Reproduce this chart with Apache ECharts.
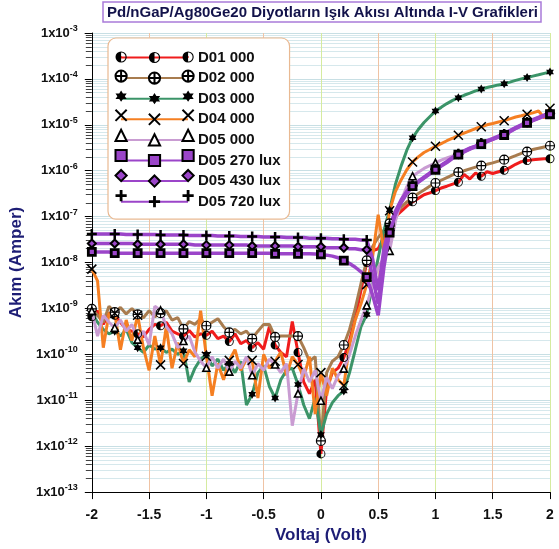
<!DOCTYPE html>
<html>
<head>
<meta charset="UTF-8">
<title>Pd/nGaP/Ag80Ge20 I-V</title>
<script src="https://cdn.jsdelivr.net/npm/echarts@6.0.0/dist/echarts.min.js"></script>
<style>
  html, body { margin: 0; padding: 0; background: #fff; }
  #main { width: 559px; height: 549px; }
</style>
</head>
<body>
<div id="main"></div>
<script>
// gerilim (V), 0.05 adim
var volts = [-2,-1.95,-1.9,-1.85,-1.8,-1.75,-1.7,-1.65,-1.6,-1.55,
  -1.5,-1.45,-1.4,-1.35,-1.3,-1.25,-1.2,-1.15,-1.1,-1.05,
  -1,-0.95,-0.9,-0.85,-0.8,-0.75,-0.7,-0.65,-0.6,-0.55,
  -0.5,-0.45,-0.4,-0.35,-0.3,-0.25,-0.2,-0.15,-0.1,-0.05,
  0,0.05,0.1,0.15,0.2,0.25,0.3,0.35,0.4,0.45,
  0.5,0.55,0.6,0.65,0.7,0.75,0.8,0.85,0.9,0.95,
  1,1.05,1.1,1.15,1.2,1.25,1.3,1.35,1.4,1.45,
  1.5,1.55,1.6,1.65,1.7,1.75,1.8,1.85,1.9,1.95,2];

// akim (A)
var d01 = [6.6e-10,8.9e-10,4.5e-10,7.9e-10,7.1e-10,5.0e-10,3.5e-10,3.2e-10,2.8e-10,2.4e-10,
  3.5e-10,4.5e-10,4.2e-10,5.0e-10,3.2e-10,2.8e-10,2.5e-10,3.3e-10,2.4e-10,2.8e-10,
  2.6e-10,3.2e-10,2.2e-10,2.5e-10,1.9e-10,2.8e-10,1.7e-10,2.0e-10,1.4e-10,1.8e-10,
  1.3e-10,4.0e-10,1.6e-10,1.1e-10,8.9e-11,5.2e-10,1.1e-10,2.5e-11,1.4e-11,2.8e-11,
  6.8e-13,1.8e-11,4.0e-11,5.0e-11,8.5e-11,2.0e-10,6.3e-10,2.5e-9,1.0e-8,1.8e-8,
  2.0e-8,3.5e-8,5.6e-8,1.0e-7,1.3e-7,1.7e-7,2.1e-7,2.5e-7,3.0e-7,3.3e-7,
  3.7e-7,4.2e-7,4.6e-7,5.1e-7,5.6e-7,8.3e-7,6.6e-7,8.9e-7,7.6e-7,9.5e-7,
  8.7e-7,9.5e-7,1.02e-6,1.17e-6,1.38e-6,1.58e-6,1.66e-6,1.74e-6,1.78e-6,1.82e-6,1.82e-6];

var d02 = [9.8e-10,7.1e-10,5.0e-10,1.12e-9,8.3e-10,1.05e-9,7.6e-10,1.0e-9,7.4e-10,6.3e-10,
  8.9e-10,6.6e-10,7.9e-10,8.9e-10,5.6e-10,6.3e-10,3.6e-10,5.2e-10,4.5e-10,6.0e-10,
  4.2e-10,5.0e-10,6.0e-10,4.0e-10,3.0e-10,3.5e-10,2.8e-10,3.2e-10,2.2e-10,3.2e-10,
  4.5e-10,4.5e-10,2.4e-10,2.5e-10,2.5e-10,2.5e-10,2.5e-10,1.4e-10,7.1e-11,8.9e-11,
  1.3e-12,4.0e-11,7.1e-11,8.9e-11,1.6e-10,3.5e-10,1.0e-9,3.5e-9,1.12e-8,2.2e-8,
  3.5e-8,5.0e-8,7.1e-8,1.12e-7,1.6e-7,2.1e-7,2.6e-7,3.2e-7,3.8e-7,4.6e-7,
  5.4e-7,6.2e-7,7.1e-7,8.1e-7,9.3e-7,1.0e-6,1.1e-6,1.2e-6,1.29e-6,1.38e-6,
  1.48e-6,1.62e-6,1.74e-6,1.91e-6,2.14e-6,2.4e-6,2.6e-6,2.9e-6,3.1e-6,3.3e-6,3.5e-6];

var d03 = [7.9e-10,5.0e-10,3.5e-10,2.8e-10,3.2e-10,2.5e-10,3.5e-10,1.8e-10,1.4e-10,1.1e-10,
  1.6e-10,1.3e-10,1.4e-10,1.1e-10,1.3e-10,1.0e-10,1.2e-10,2.5e-11,5.0e-11,7.9e-11,
  1.0e-10,5.6e-11,7.9e-11,4.5e-11,6.3e-11,4.0e-11,7.1e-11,7.9e-12,1.35e-11,4.0e-11,
  5.6e-11,2.0e-11,1.12e-11,2.8e-11,4.5e-11,5.0e-11,2.2e-11,7.9e-12,4.0e-12,1.12e-11,
  1.8e-12,5.0e-12,8.9e-12,1.26e-11,1.6e-11,4.0e-11,1.26e-10,4.0e-10,7.4e-10,3.2e-9,
  1.26e-8,5.0e-8,1.4e-7,5.0e-7,1.26e-6,2.8e-6,5.2e-6,7.9e-6,1.12e-5,1.5e-5,
  2.0e-5,2.4e-5,2.9e-5,3.4e-5,3.9e-5,4.4e-5,4.9e-5,5.5e-5,6.0e-5,6.5e-5,
  6.9e-5,7.4e-5,7.8e-5,8.5e-5,9.3e-5,1.0e-4,1.07e-4,1.15e-4,1.23e-4,1.32e-4,1.41e-4];

var d04 = [7.2e-9,4.0e-9,1.4e-10,7.9e-10,7.9e-10,1.26e-10,5.6e-10,2.0e-10,7.1e-10,1.4e-10,
  4.5e-11,2.5e-10,5.9e-11,4.0e-10,5.0e-11,1.8e-10,6.3e-11,1.26e-10,8.9e-11,8.9e-10,
  9.1e-11,1.26e-11,6.3e-11,2.8e-11,7.4e-11,1.26e-10,4.5e-11,7.9e-11,7.4e-11,1.12e-11,
  1.0e-10,5.0e-11,7.1e-11,1.12e-10,3.5e-11,8.9e-11,6.0e-11,3.2e-11,8.9e-11,5.0e-12,
  4.0e-11,1.26e-11,5.0e-11,2.8e-11,2.1e-11,1.6e-10,5.6e-10,1.26e-9,3.3e-9,1.26e-8,
  1.1e-7,1.8e-8,1.35e-7,3.5e-7,6.3e-7,1.05e-6,1.55e-6,2.0e-6,2.5e-6,2.9e-6,
  3.4e-6,3.9e-6,4.5e-6,5.1e-6,5.9e-6,6.6e-6,7.4e-6,8.3e-6,9.1e-6,1.0e-5,
  1.07e-5,1.15e-5,1.23e-5,1.35e-5,1.48e-5,1.58e-5,1.7e-5,1.82e-5,2.0e-5,1.41e-5,2.3e-5];

var d05 = [8.9e-10,2.5e-10,7.1e-10,5.0e-10,3.8e-10,5.6e-10,3.2e-10,4.5e-10,2.1e-10,3.2e-10,
  1.6e-10,1.12e-9,9.1e-10,4.0e-10,2.8e-10,1.4e-10,1.95e-10,2.5e-10,1.12e-10,7.1e-11,
  5.1e-11,8.9e-11,5.0e-11,7.9e-11,4.2e-11,7.1e-11,5.0e-11,8.9e-11,3.5e-11,6.3e-11,
  4.5e-11,7.9e-11,6.0e-11,4.0e-11,6.3e-11,2.8e-12,1.4e-11,5.0e-11,2.5e-11,4.5e-11,
  9.8e-12,3.2e-11,1.8e-11,3.5e-11,4.9e-11,1.0e-10,2.5e-10,5.6e-10,1.17e-9,3.2e-9,
  7.9e-9,1.26e-8,1.8e-8,7.9e-8,2.2e-7,4.5e-7,7.6e-7,9.3e-7,1.12e-6,1.29e-6,
  1.48e-6,1.7e-6,1.91e-6,2.1e-6,2.3e-6,2.6e-6,2.95e-6,3.4e-6,3.8e-6,4.3e-6,
  4.8e-6,5.4e-6,6.0e-6,7.1e-6,8.3e-6,9.5e-6,1.1e-5,1.23e-5,1.38e-5,1.55e-5,1.7e-5];

var d05lux270 = [1.7e-8,1.7e-8,1.7e-8,1.7e-8,1.6e-8,1.6e-8,1.6e-8,1.6e-8,1.6e-8,1.6e-8,
  1.6e-8,1.6e-8,1.6e-8,1.6e-8,1.6e-8,1.6e-8,1.6e-8,1.6e-8,1.6e-8,1.6e-8,
  1.6e-8,1.6e-8,1.6e-8,1.6e-8,1.6e-8,1.6e-8,1.6e-8,1.6e-8,1.6e-8,1.6e-8,
  1.6e-8,1.6e-8,1.55e-8,1.55e-8,1.55e-8,1.55e-8,1.55e-8,1.55e-8,1.55e-8,1.53e-8,
  1.5e-8,1.45e-8,1.38e-8,1.27e-8,1.1e-8,9.5e-9,7.9e-9,6.3e-9,4.8e-9,2.0e-9,
  7.1e-10,7.9e-9,4.5e-8,1.12e-7,2.0e-7,3.2e-7,4.6e-7,5.6e-7,6.9e-7,8.5e-7,
  1.05e-6,1.26e-6,1.51e-6,1.86e-6,2.24e-6,2.57e-6,2.95e-6,3.3e-6,3.8e-6,4.3e-6,
  4.8e-6,5.4e-6,6.0e-6,7.1e-6,8.3e-6,9.5e-6,1.1e-5,1.23e-5,1.38e-5,1.55e-5,1.7e-5];

var d05lux430 = [2.6e-8,2.6e-8,2.6e-8,2.6e-8,2.6e-8,2.6e-8,2.6e-8,2.6e-8,2.5e-8,2.5e-8,
  2.5e-8,2.5e-8,2.5e-8,2.5e-8,2.5e-8,2.5e-8,2.5e-8,2.5e-8,2.4e-8,2.4e-8,
  2.4e-8,2.4e-8,2.4e-8,2.4e-8,2.4e-8,2.4e-8,2.4e-8,2.4e-8,2.3e-8,2.3e-8,
  2.3e-8,2.3e-8,2.3e-8,2.3e-8,2.3e-8,2.3e-8,2.2e-8,2.2e-8,2.2e-8,2.2e-8,
  2.2e-8,2.1e-8,2.1e-8,2.1e-8,2.1e-8,2.0e-8,2.0e-8,1.9e-8,1.9e-8,5.0e-9,
  1.26e-9,1.26e-8,5.0e-8,1.2e-7,2.1e-7,3.3e-7,4.7e-7,5.8e-7,7.1e-7,8.8e-7,
  1.08e-6,1.3e-6,1.56e-6,1.92e-6,2.3e-6,2.65e-6,3.05e-6,3.4e-6,3.9e-6,4.4e-6,
  4.95e-6,5.55e-6,6.2e-6,7.3e-6,8.5e-6,9.8e-6,1.13e-5,1.27e-5,1.42e-5,1.6e-5,1.75e-5];

var d05lux720 = [4.2e-8,4.2e-8,4.2e-8,4.2e-8,4.2e-8,4.2e-8,4.1e-8,4.1e-8,4.1e-8,4.1e-8,
  4.1e-8,4.1e-8,4.0e-8,4.0e-8,4.0e-8,4.0e-8,4.0e-8,3.9e-8,3.9e-8,3.9e-8,
  3.9e-8,3.9e-8,3.8e-8,3.8e-8,3.8e-8,3.8e-8,3.7e-8,3.7e-8,3.7e-8,3.7e-8,
  3.6e-8,3.6e-8,3.6e-8,3.6e-8,3.5e-8,3.5e-8,3.5e-8,3.5e-8,3.4e-8,3.4e-8,
  3.4e-8,3.4e-8,3.3e-8,3.3e-8,3.2e-8,3.2e-8,3.2e-8,3.1e-8,3.1e-8,1.26e-8,
  2.5e-9,2.0e-8,6.3e-8,1.3e-7,2.3e-7,3.6e-7,4.8e-7,5.9e-7,7.2e-7,8.9e-7,
  1.1e-6,1.32e-6,1.59e-6,1.95e-6,2.35e-6,2.7e-6,3.1e-6,3.45e-6,4.0e-6,4.5e-6,
  5.0e-6,5.7e-6,6.3e-6,7.5e-6,8.7e-6,1.0e-5,1.15e-5,1.29e-5,1.45e-5,1.63e-5,1.8e-5];

var names = ['D01 000', 'D02 000', 'D03 000', 'D04 000', 'D05 000', 'D05 270 lux', 'D05 430 lux', 'D05 720 lux'];

var FONT = "'Liberation Sans', Arial, sans-serif";
var PURPLE = '#9b45c9';

// isaretler
var symHalf = 'path://M10,0A10,10,0,0,0,10,20Z M10,0A10,10,0,0,1,10,20L10,18A8,8,0,0,0,10,2Z';
var symCross = 'path://M10,0A10,10,0,1,1,10,20A10,10,0,1,1,10,0Z M10,0L10,20 M0,10L20,10';
var symStar = 'path://M10,0L12.89,5L18.66,5L15.77,10L18.66,15L12.89,15L10,20L7.11,15L1.34,15L4.23,10L1.34,5L7.11,5Z';
var symX = 'path://M0,0L20,20M20,0L0,20';
var symPlus = 'path://M7.5,0H12.5V7.5H20V12.5H12.5V20H7.5V12.5H0V7.5H7.5Z';

// her 0.2 V'ta bir isaret
function toData(ys) {
    return volts.map(function (x, i) {
        var p = [x, ys[i]];
        return i % 4 === 0 ? p : { value: p, symbol: 'none' };
    });
}

function mkSeries(name, ys, color, symbol, size, itemStyle, width, z) {
    return {
        name: name,
        type: 'line',
        data: toData(ys),
        symbol: symbol,
        symbolSize: size,
        symbolKeepAspect: true,
        lineStyle: { color: color, width: width || 3 },
        itemStyle: itemStyle,
        z: z || 2,
        silent: true
    };
}

var chart = echarts.init(document.getElementById('main'), null, { renderer: 'canvas' });

var legendBase = {
    data: names,
    orient: 'vertical',
    top: 38,
    itemHeight: 14,
    itemGap: 6.5,
    selectedMode: false
};

var option = {
    animation: false,
    backgroundColor: '#fff',
    textStyle: { fontFamily: FONT },
    title: {
        text: 'Pd/nGaP/Ag80Ge20 Diyotların Işık Akısı Altında I-V Grafikleri',
        left: 103,
        top: 2,
        padding: [3, 3, 2, 4],
        borderColor: '#a97bd9',
        borderWidth: 1.5,
        textStyle: { fontSize: 15, fontWeight: 'bold', color: '#12124a', fontFamily: FONT }
    },
    grid: { left: 90, right: 9, top: 33, bottom: 56 },
    legend: [
        Object.assign({}, legendBase, {
            left: 108,
            padding: [12, 9, 10, 12],
            itemWidth: 67,
            itemGap: 5.6,
            backgroundColor: '#fff',
            borderColor: '#e9b992',
            borderWidth: 1.2,
            borderRadius: 8,
            textStyle: { fontSize: 15, fontWeight: 'bold', color: '#111', fontFamily: FONT, padding: [0, 0, 0, 5] },
            z: 4
        }),
        // uclardaki isaretler
        Object.assign({}, legendBase, {
            left: 114.5, padding: [12, 0, 10, 0], itemWidth: 1,
            formatter: function () { return ''; }, z: 5
        }),
        Object.assign({}, legendBase, {
            left: 181.5, padding: [12, 0, 10, 0], itemWidth: 1,
            formatter: function () { return ''; }, z: 5
        })
    ],
    xAxis: {
        type: 'value',
        min: -2,
        max: 2,
        interval: 0.5,
        axisLine: { onZero: false, lineStyle: { color: '#000', width: 1 } },
        axisTick: { length: 7, lineStyle: { color: '#000' } },
        axisLabel: { margin: 16, fontSize: 14, fontWeight: 'bold', color: '#111', fontFamily: FONT },
        splitLine: { show: true, lineStyle: { color: ['#d5eba0', '#efc3a4'], width: 1 } },
        name: 'Voltaj (Volt)',
        nameLocation: 'middle',
        nameGap: 33,
        nameTextStyle: { fontSize: 17, fontWeight: 'bold', color: '#1d1d75', fontFamily: FONT }
    },
    yAxis: {
        type: 'log',
        logBase: 10,
        min: 1e-13,
        max: 1e-3,
        interval: 1,
        axisLine: { onZero: false, lineStyle: { color: '#000', width: 1 } },
        axisTick: { length: 7, lineStyle: { color: '#000' } },
        minorTick: { show: true, splitNumber: 9, length: 6, lineStyle: { color: '#444' } },
        minorSplitLine: { show: true, lineStyle: { color: '#d6e8ec', width: 1 } },
        axisLabel: {
            margin: 14,
            formatter: function (v) {
                return '{m|1x10}{e|' + Math.round(Math.log10(v)) + '}';
            },
            rich: {
                m: { fontSize: 13, fontWeight: 'bold', color: '#111', fontFamily: FONT, lineHeight: 18 },
                e: { fontSize: 9, fontWeight: 'bold', color: '#111', fontFamily: FONT, lineHeight: 8, verticalAlign: 'top' }
            }
        },
        splitLine: { show: true, lineStyle: { color: '#c8dfe4', width: 1 } },
        name: 'Akım (Amper)',
        nameLocation: 'middle',
        nameGap: 66,
        nameTextStyle: { fontSize: 17, fontWeight: 'bold', color: '#1d1d75', fontFamily: FONT }
    },
    series: [
        mkSeries(names[0], d01, '#f01c1c', symHalf, 9, { color: '#000' }),
        mkSeries(names[1], d02, '#a87c4f', symCross, 9, { color: '#fff', borderColor: '#000', borderWidth: 1.2 }),
        mkSeries(names[2], d03, '#3b9468', symStar, 9, { color: '#000' }),
        mkSeries(names[3], d04, '#f57f22', symX, 9, { color: 'rgba(0,0,0,0)', borderColor: '#000', borderWidth: 1.5 }),
        mkSeries(names[4], d05, '#c99cd2', 'triangle', 7, { color: '#fff', borderColor: '#000', borderWidth: 1.6 }),
        mkSeries(names[5], d05lux270, PURPLE, 'rect', 7, { color: PURPLE, borderColor: '#000', borderWidth: 2.8 }, 3.5, 3),
        mkSeries(names[6], d05lux430, PURPLE, 'diamond', 8, { color: PURPLE, borderColor: '#000', borderWidth: 2 }, 3.5),
        mkSeries(names[7], d05lux720, PURPLE, symPlus, 10, { color: '#000' }, 3.5)
    ]
};

chart.setOption(option);
</script>
</body>
</html>
